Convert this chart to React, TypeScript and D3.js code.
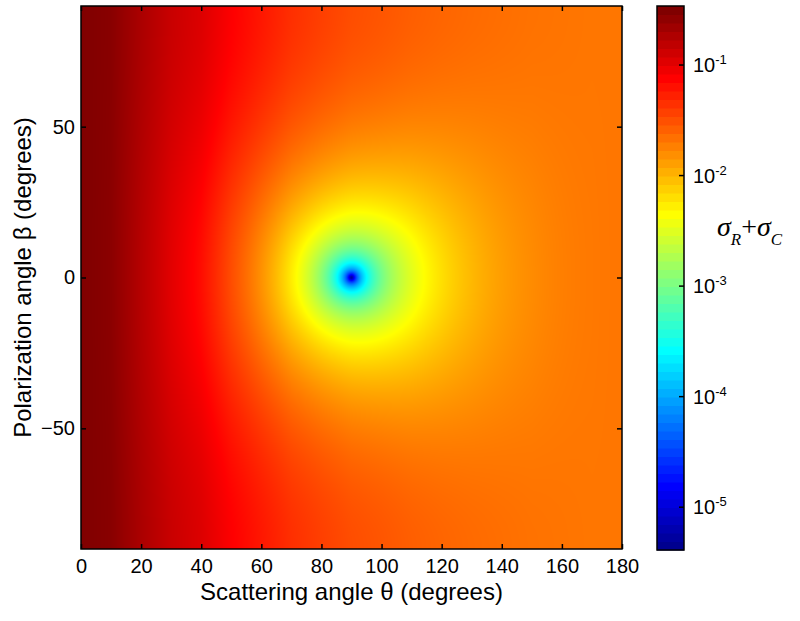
import * as d3 from 'd3';
import { useEffect, useRef } from 'react';

// sigma_R + sigma_C read along the top edge (beta = +-90 deg), per scattering angle
const thetaSamples = [0, 10, 20, 30, 40, 50, 60, 70, 80, 90, 100, 110, 120, 130, 140, 150, 160, 170, 180];
const edgeValues = [0.34, 0.31, 0.21, 0.15, 0.12, 0.083, 0.063, 0.048, 0.040, 0.034, 0.031, 0.028, 0.026, 0.0245, 0.0234, 0.0224, 0.0219, 0.0214, 0.0214];
const floorValue = 5e-6; // minimum at theta = 90, beta = 0
const colorDomain = [4.1e-6, 0.342];

const xTicks = [0, 20, 40, 60, 80, 100, 120, 140, 160, 180];
const yTicks = [-50, 0, 50];
const cbExponents = [-1, -2, -3, -4, -5];

const W = 800, H = 621;
const plot = { left: 81, right: 622, top: 6, bottom: 549 };
const cbar = { left: 657, right: 684, top: 6, bottom: 550 };
const FONT = '"Liberation Sans", Arial, Helvetica, sans-serif';

// matlab-style jet
const clamp = (v: number) => Math.round(255 * Math.max(0, Math.min(1, v)));
const jetAt = (x: number) => [
  clamp(1.5 - Math.abs(4 * x - 3)),
  clamp(1.5 - Math.abs(4 * x - 2)),
  clamp(1.5 - Math.abs(4 * x - 1)),
];
const jet64 = d3.range(64).map((i) => jetAt((i + 1) / 64));

function App() {
  const ref = useRef<SVGSVGElement>(null);

  useEffect(() => {
    const svg = d3.select(ref.current);
    svg.selectAll('*').remove();

    const x = d3.scaleLinear().domain([0, 180]).range([plot.left, plot.right]);
    const y = d3.scaleLinear().domain([-90, 90]).range([plot.bottom, plot.top]);
    const edge = d3.scaleLinear().domain(thetaSamples).range(edgeValues.map(Math.log10));
    const toT = d3.scaleLog().domain(colorDomain).range([1 / 64, 1]).clamp(true);

    const field = (th: number, be: number) => {
      const a = Math.pow(10, edge(th));
      const s = Math.sin((th * Math.PI) / 180);
      const cb = Math.cos((be * Math.PI) / 180);
      return a * (1 - s * s * cb * cb) + floorValue;
    };

    // image of the field (smooth shading)
    const pw = plot.right - plot.left, ph = plot.bottom - plot.top;
    const canvas = document.createElement('canvas');
    canvas.width = pw; canvas.height = ph;
    const ctx = canvas.getContext('2d')!;
    const img = ctx.createImageData(pw, ph);
    for (let j = 0; j < ph; j++) {
      const be = y.invert(plot.top + j + 0.5);
      for (let i = 0; i < pw; i++) {
        const th = x.invert(plot.left + i + 0.5);
        const col = jetAt(toT(field(th, be)));
        const k = (j * pw + i) * 4;
        img.data[k] = col[0]; img.data[k + 1] = col[1]; img.data[k + 2] = col[2]; img.data[k + 3] = 255;
      }
    }
    ctx.putImageData(img, 0, 0);

    svg.append('image')
      .attr('x', plot.left).attr('y', plot.top)
      .attr('width', pw).attr('height', ph)
      .attr('preserveAspectRatio', 'none')
      .attr('href', canvas.toDataURL());

    // axes, ticks inward on all four sides
    const styleAxis = (g: any) => {
      g.select('.domain').remove();
      g.selectAll('line').attr('stroke', '#000').attr('stroke-width', 1.5);
      g.selectAll('text').attr('font-family', FONT).attr('font-size', 20).attr('fill', '#000');
    };
    svg.append('g').attr('transform', `translate(0,${plot.bottom})`)
      .call(d3.axisBottom(x).tickValues(xTicks).tickSize(-5).tickPadding(10).tickFormat(d3.format('d')))
      .call(styleAxis);
    svg.append('g').attr('transform', `translate(0,${plot.top})`)
      .call(d3.axisTop(x).tickValues(xTicks).tickSize(-5).tickFormat(() => ''))
      .call(styleAxis);
    svg.append('g').attr('transform', `translate(${plot.left},0)`)
      .call(d3.axisLeft(y).tickValues(yTicks).tickSize(-5).tickPadding(6).tickFormat(d3.format('d')))
      .call(styleAxis);
    svg.append('g').attr('transform', `translate(${plot.right},0)`)
      .call(d3.axisRight(y).tickValues(yTicks).tickSize(-5).tickFormat(() => ''))
      .call(styleAxis);

    svg.append('rect')
      .attr('x', plot.left).attr('y', plot.top).attr('width', pw).attr('height', ph)
      .attr('fill', 'none').attr('stroke', '#000').attr('stroke-width', 1.5);

    svg.append('text')
      .attr('x', (plot.left + plot.right) / 2).attr('y', 600)
      .attr('text-anchor', 'middle').attr('font-family', FONT).attr('font-size', 24)
      .text('Scattering angle θ (degrees)');
    svg.append('text')
      .attr('transform', `translate(31,${(plot.top + plot.bottom) / 2}) rotate(-90)`)
      .attr('text-anchor', 'middle').attr('font-family', FONT).attr('font-size', 24)
      .text('Polarization angle β (degrees)');

    // colorbar (64 bands)
    const band = d3.scaleLinear().domain([0, 64]).range([cbar.bottom, cbar.top]);
    svg.append('g').selectAll('rect').data(jet64).join('rect')
      .attr('x', cbar.left).attr('width', cbar.right - cbar.left)
      .attr('y', (_d, i) => band(i + 1)).attr('height', (_d, i) => band(i) - band(i + 1) + 0.5)
      .attr('fill', (d) => `rgb(${d[0]},${d[1]},${d[2]})`);
    svg.append('rect')
      .attr('x', cbar.left).attr('y', cbar.top)
      .attr('width', cbar.right - cbar.left).attr('height', cbar.bottom - cbar.top)
      .attr('fill', 'none').attr('stroke', '#000').attr('stroke-width', 1.5);

    const cb = d3.scaleLog().domain(colorDomain).range([cbar.bottom, cbar.top]);
    const ticks = svg.append('g').selectAll('g').data(cbExponents).join('g')
      .attr('transform', (d) => `translate(${cbar.right},${cb(Math.pow(10, d))})`);
    ticks.append('line').attr('x1', 0).attr('x2', -5).attr('stroke', '#000').attr('stroke-width', 1.5);
    const lbl = ticks.append('text').attr('x', 9).attr('y', 7)
      .attr('font-family', FONT).attr('font-size', 20).attr('fill', '#000');
    lbl.append('tspan').text('10');
    lbl.append('tspan').attr('dy', -8).attr('font-size', 13).text((d) => `${d}`);

    const sig = svg.append('text').attr('x', 717).attr('y', 236)
      .attr('font-family', '"Liberation Serif", "Times New Roman", serif').attr('font-style', 'italic')
      .attr('font-size', 28).attr('fill', '#000');
    sig.append('tspan').text('σ');
    sig.append('tspan').attr('dy', 9).attr('font-size', 17).text('R');
    sig.append('tspan').attr('dy', -9).attr('font-style', 'normal').text('+');
    sig.append('tspan').text('σ');
    sig.append('tspan').attr('dy', 9).attr('font-size', 17).text('C');
  }, []);

  return (
    <svg ref={ref} width={W} height={H}
      style={{ position: 'absolute', left: 0, top: 0, display: 'block', background: '#fff' }} />
  );
}

export default App;
